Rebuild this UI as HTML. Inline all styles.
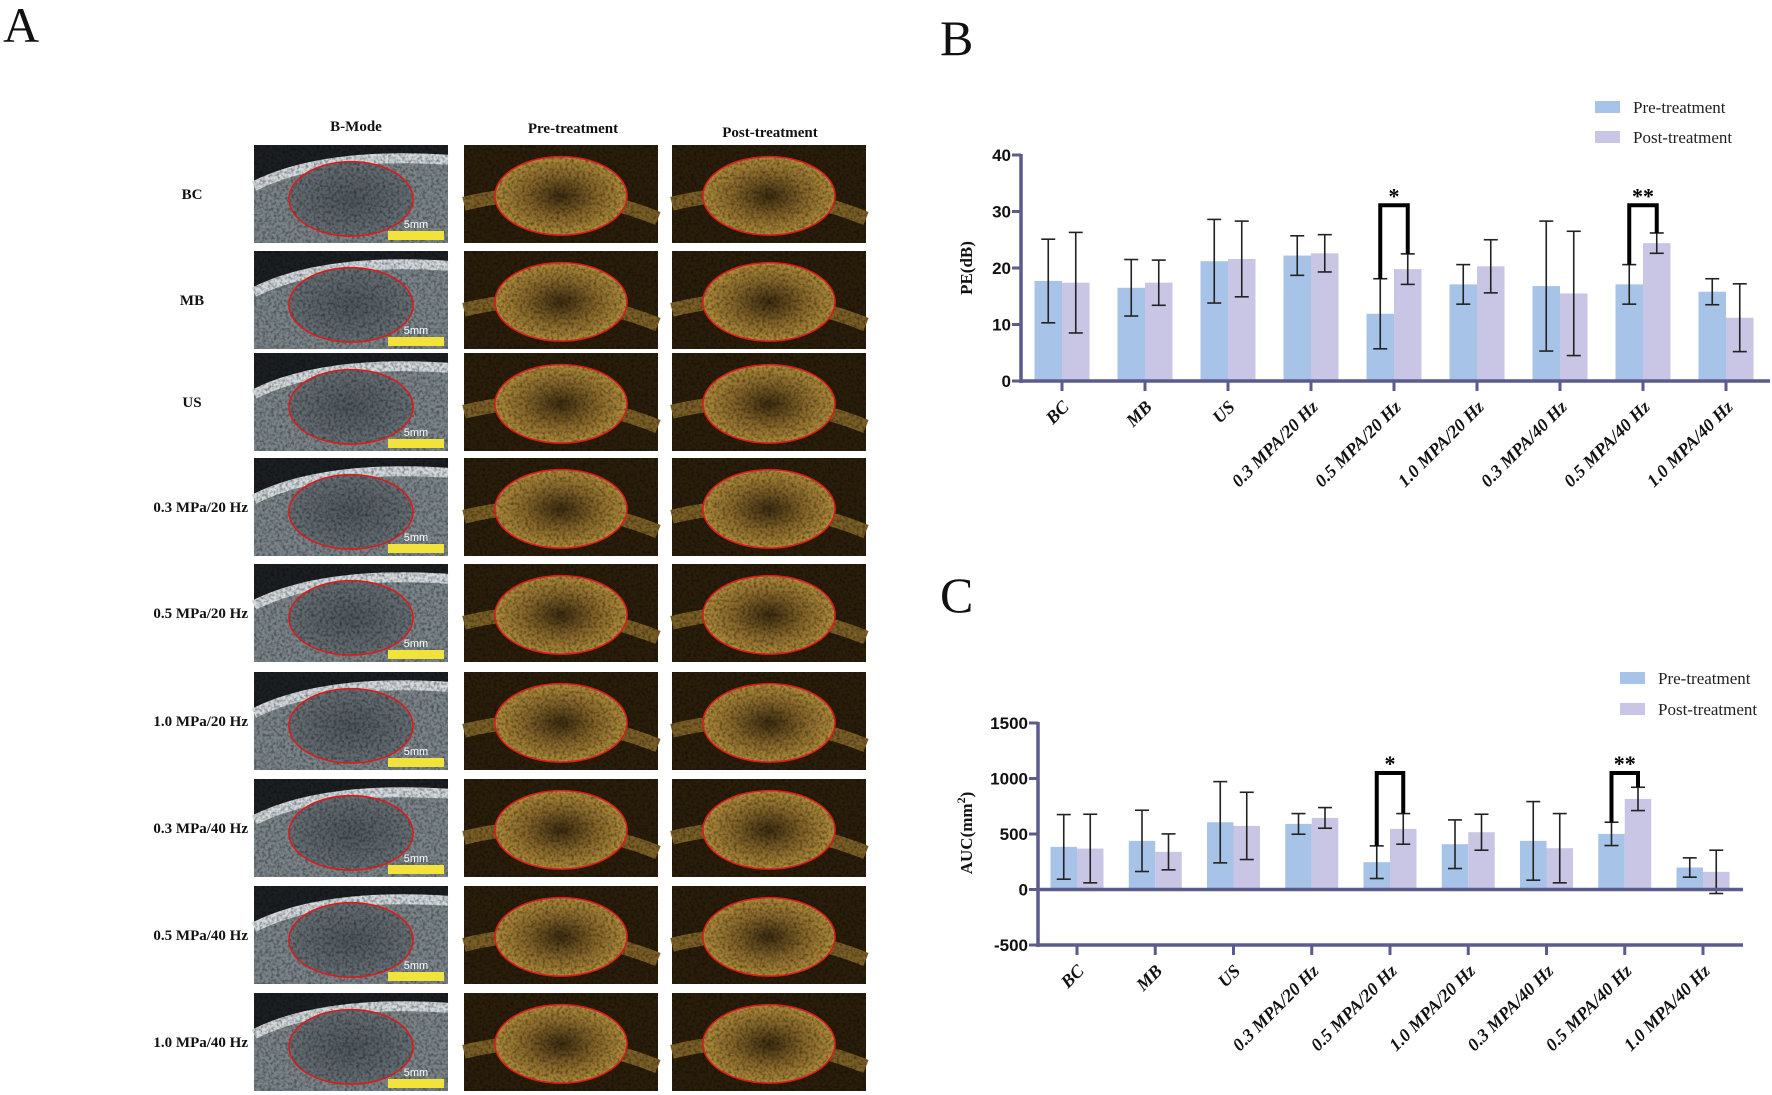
<!DOCTYPE html>
<html><head><meta charset="utf-8"><style>
html,body{margin:0;padding:0;background:#fff;}
svg{display:block;}
.tick{font:bold 17px "Liberation Sans",sans-serif;fill:#111;}
.xl{font:italic bold 18px "Liberation Serif",serif;fill:#111;}
.leg{font:17px "Liberation Serif",serif;fill:#222;}
.yt{font:bold 17px "Liberation Serif",serif;fill:#111;}
.rl{font:bold 15px "Liberation Serif",serif;fill:#111;}
.panel{font:50px "Liberation Serif",serif;fill:#111;}
</style></head><body>
<svg id="fig" width="1772" height="1095" viewBox="0 0 1772 1095" xmlns="http://www.w3.org/2000/svg">
<defs>
<radialGradient id="gB" cx="50%" cy="50%" r="60%"><stop offset="0" stop-color="#4e565c"/><stop offset="1" stop-color="#6a7379"/></radialGradient>
<radialGradient id="gC" cx="50%" cy="50%" r="55%"><stop offset="0" stop-color="#3a2a10"/><stop offset="0.5" stop-color="#86662a"/><stop offset="1" stop-color="#b8943e"/></radialGradient>
<filter id="noise" x="0" y="0" width="100%" height="100%"><feTurbulence type="fractalNoise" baseFrequency="0.35" numOctaves="2" seed="3"/><feColorMatrix values="0 0 0 0 0  0 0 0 0 0  0 0 0 0 0  0 0 0 0.9 -0.35"/></filter>
</defs>
<text class="panel" x="3" y="42">A</text>
<text class="panel" x="940" y="55">B</text>
<text class="panel" x="940" y="612">C</text>
<g id="panelA"></g>
<g id="chartB"></g>
<g id="chartC"></g>
</svg>
<script>
const categories = ["BC","MB","US","0.3 MPA/20 Hz","0.5 MPA/20 Hz","1.0 MPA/20 Hz","0.3 MPA/40 Hz","0.5 MPA/40 Hz","1.0 MPA/40 Hz"];
const pePre = [17.7,16.5,21.2,22.2,11.9,17.1,16.8,17.1,15.8];
const pePost = [17.4,17.4,21.6,22.6,19.8,20.3,15.5,24.4,11.2];
const pePreErr = [7.4,5.0,7.4,3.5,6.2,3.5,11.5,3.5,2.3];
const pePostErr = [8.9,4.0,6.7,3.3,2.7,4.7,11.0,1.8,6.0];
const peTicks = [0,10,20,30,40];
const aucPre = [384,438,606,591,246,408,438,501,198];
const aucPost = [369,339,573,645,546,516,372,816,159];
const aucPreErr = [291,276,366,93,147,219,354,105,87];
const aucPostErr = [309,162,303,93,138,162,312,105,195];
const aucTicks = [-500,0,500,1000,1500];
const sigB = [{cat:4,label:"*",top:31.1},{cat:7,label:"**",top:31.1}];
const sigC = [{cat:4,label:"*",top:1050},{cat:7,label:"**",top:1050}];
const rowLabels = ["BC","MB","US","0.3 MPa/20 Hz","0.5 MPa/20 Hz","1.0 MPa/20 Hz","0.3 MPa/40 Hz","0.5 MPa/40 Hz","1.0 MPa/40 Hz"];
const colLabels = ["B-Mode","Pre-treatment","Post-treatment"];

const NS="http://www.w3.org/2000/svg";
function el(tag,attrs,parent,text){const e=document.createElementNS(NS,tag);for(const k in attrs)e.setAttribute(k,attrs[k]);if(text!==undefined)e.textContent=text;parent.appendChild(e);return e;}

function drawChart(g,cfg){
  const y=v=>cfg.y0+(v-cfg.vmin)/(cfg.vmax-cfg.vmin)*(cfg.y1-cfg.y0);
  const xc=i=>cfg.x0+i*cfg.step;
  const axc="#5b5b8e";
  cfg.pre.forEach((v,i)=>{
    const b=el('rect',{x:xc(i)-cfg.bw,y:Math.min(y(v),y(0)),width:cfg.bw,height:Math.abs(y(0)-y(v)),fill:"#a7c3e7"},g);
    
    
    const p=el('rect',{x:xc(i),y:Math.min(y(cfg.post[i]),y(0)),width:cfg.bw,height:Math.abs(y(0)-y(cfg.post[i])),fill:"#c8c6e4"},g);
    
    
  });
  function err(cx,v,e,name){
    const eg=el('g',{stroke:"#222","stroke-width":1.6},g);
    
    
    el('line',{x1:cx,x2:cx,y1:y(v+e),y2:y(v-e)},eg);
    el('line',{x1:cx-7,x2:cx+7,y1:y(v+e),y2:y(v+e)},eg);
    el('line',{x1:cx-7,x2:cx+7,y1:y(v-e),y2:y(v-e)},eg);
  }
  cfg.pre.forEach((v,i)=>{err(xc(i)-cfg.bw/2,v,cfg.preErr[i],'error-bar-pre-'+i);err(xc(i)+cfg.bw/2,cfg.post[i],cfg.postErr[i],'error-bar-post-'+i);});
  const ax=el('line',{x1:cfg.ax,x2:cfg.ax,y1:y(cfg.vmax)-1,y2:y(cfg.vmin)+2,stroke:axc,"stroke-width":3.5},g);
  
  
  const xa=el('line',{x1:cfg.ax,x2:cfg.xend,y1:y(0),y2:y(0),stroke:axc,"stroke-width":3.5},g);
  
  
  if(cfg.vmin<0){
    const xb=el('line',{x1:cfg.ax,x2:cfg.xend,y1:y(cfg.vmin),y2:y(cfg.vmin),stroke:axc,"stroke-width":3.5},g);
    
    
  }
  const xTickY=cfg.vmin<0?y(cfg.vmin):y(0);
  cfg.ticks.forEach(t=>{
    el('line',{x1:cfg.ax-9,x2:cfg.ax,y1:y(t),y2:y(t),stroke:axc,"stroke-width":3},g);
    const tl=el('text',{x:cfg.ax-10,y:y(t)+6,"text-anchor":"end",class:"tick"},g,String(t));
    
    
  });
  categories.forEach((c,i)=>{
    el('line',{x1:xc(i),x2:xc(i),y1:xTickY,y2:xTickY+10,stroke:axc,"stroke-width":3},g);
    const lx=xc(i)+8, ly=xTickY+27;
    const t=el('text',{x:lx,y:ly,"text-anchor":"end",class:"xl",transform:`rotate(-45 ${lx} ${ly})`},g,c);
    
    
  });
  const ty=el('text',{x:cfg.titleX,y:cfg.titleY,"text-anchor":"middle",class:"yt",transform:`rotate(-90 ${cfg.titleX} ${cfg.titleY})`},g);
  
  
  ty.textContent=cfg.title;
  if(cfg.sup){el('tspan',{dy:-7,"font-size":"12"},ty,cfg.sup);el('tspan',{dy:7},ty,')');}
  cfg.sig.forEach(s=>{
    const l=xc(s.cat)-cfg.bw/2, r=xc(s.cat)+cfg.bw/2;
    const lb=cfg.pre[s.cat]+cfg.preErr[s.cat], rb=cfg.post[s.cat]+cfg.postErr[s.cat];
    const p=el('polyline',{points:`${l},${y(lb)} ${l},${y(s.top)} ${r},${y(s.top)} ${r},${y(rb)}`,fill:"none",stroke:"#000","stroke-width":4},g);
    
    
    const st=el('text',{x:(l+r)/2,y:y(s.top)-2,"text-anchor":"middle",style:'font:bold 22px "Liberation Serif",serif'},g,s.label);
    
    
  });
  const lg=el('g',{},g);
  
  
  [["Pre-treatment","#a7c3e7"],["Post-treatment","#c8c6e4"]].forEach((d,k)=>{
    const yy=cfg.legY+k*cfg.legGap;
    el('rect',{x:cfg.legX,y:yy,width:25,height:12,fill:d[1]},lg);
    const t=el('text',{x:cfg.legX+38,y:yy+12,class:"leg"},lg,d[0]);
    
    
  });
}

drawChart(document.getElementById('chartB'),{pre:pePre,post:pePost,preErr:pePreErr,postErr:pePostErr,ticks:peTicks,
  vmin:0,vmax:40,y0:381,y1:155,x0:1062,step:83,bw:27.5,ax:1021,xend:1770,title:"PE(dB)",titleX:972,titleY:268,sig:sigB,legX:1595,legY:101,legGap:30});
drawChart(document.getElementById('chartC'),{pre:aucPre,post:aucPost,preErr:aucPreErr,postErr:aucPostErr,ticks:aucTicks,
  vmin:-500,vmax:1500,y0:945,y1:723,x0:1077,step:78.25,bw:26.5,ax:1038,xend:1743,title:"AUC(mm",sup:"2",titleX:972,titleY:833,sig:sigC,legX:1620,legY:672,legGap:31});

const A=document.getElementById('panelA');
const cols=[[254,448],[464,658],[672,866]];
const rowTop=[145,251,353,458,564,672,779,886,993];
const rowH=98;
const headerX=[356,573,770], headerY=[131,133,137];
colLabels.forEach((c,j)=>{const t=el('text',{x:headerX[j],y:headerY[j],"text-anchor":"middle",class:"rl"},A,c);
  
  });
rowLabels.forEach((r,i)=>{
  const cy=rowTop[i]+rowH/2+5;
  const t=el('text',{x:r.length<4?192:248,y:cy,"text-anchor":r.length<4?"middle":"end",class:"rl"},A,r);
  
  
  cols.forEach((c,j)=>{
    const x=c[0],w=c[1]-c[0],y=rowTop[i],h=rowH;
    const g=el('g',{},A);
    
    
    const ex=x+w*0.5, ey=y+h*0.55, rx=w*0.32, ry=h*0.38;
    if(j==0){
      el('rect',{x:x,y:y,width:w,height:h,fill:"#7a8489"},g);
      el('path',{d:`M${x} ${y+h*0.4} Q${x+w*0.35} ${y+h*0.05} ${x+w} ${y+h*0.12} L${x+w} ${y} L${x} ${y} Z`,fill:"#1c1f22"},g);
      el('path',{d:`M${x} ${y+h*0.42} Q${x+w*0.35} ${y+h*0.07} ${x+w} ${y+h*0.15}`,fill:"none",stroke:"#d3d9dc","stroke-width":10},g);
      el('ellipse',{cx:ex,cy:ey,rx:rx,ry:ry,fill:"url(#gB)"},g);
      el('rect',{x:x,y:y,width:w,height:h,filter:"url(#noise)"},g);
      el('ellipse',{cx:ex,cy:ey,rx:rx,ry:ry,fill:"none",stroke:"#e01818","stroke-width":1.5},g);
      el('rect',{x:x+w-60,y:y+h-12,width:56,height:9,fill:"#f2e33a"},g);
      el('text',{x:x+w-32,y:y+h-15,"text-anchor":"middle",style:'font:11px "Liberation Sans",sans-serif;fill:#fff'},g,"5mm");
    } else {
      el('rect',{x:x,y:y,width:w,height:h,fill:"#2a1e0b"},g);
      el('path',{d:`M${x} ${y+h*0.6} Q${x+w*0.5} ${y+h*0.35} ${x+w} ${y+h*0.75}`,fill:"none",stroke:"#7b5f26","stroke-width":14},g);
      el('ellipse',{cx:ex,cy:ey-3,rx:rx+4,ry:ry+2,fill:"url(#gC)"},g);
      el('rect',{x:x,y:y,width:w,height:h,filter:"url(#noise)"},g);
      el('ellipse',{cx:ex,cy:ey-3,rx:rx+4,ry:ry+2,fill:"none",stroke:"#e01818","stroke-width":1.5},g);
    }
  });
});
</script>
</body></html>
